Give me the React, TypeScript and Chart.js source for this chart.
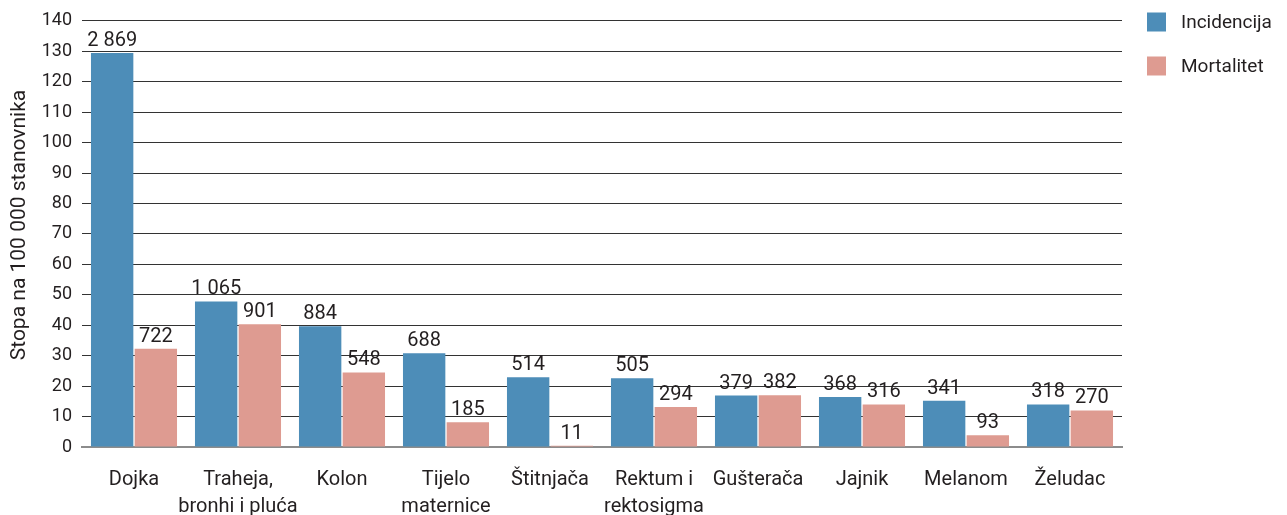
import React, { useEffect, useRef } from "react";
import { Chart, registerables } from "chart.js";

Chart.register(...registerables);

const categories: (string | string[])[] = [
  "Dojka",
  ["Traheja,", "bronhi i pluća"],
  "Kolon",
  ["Tijelo", "maternice"],
  "Štitnjača",
  ["Rektum i", "rektosigma"],
  "Gušterača",
  "Jajnik",
  "Melanom",
  "Želudac",
];

const incidence = [129.4, 47.8, 39.7, 30.8, 22.9, 22.6, 16.9, 16.4, 15.2, 14.0];
const mortality = [32.3, 40.3, 24.5, 8.1, 0.4, 13.1, 17.0, 14.0, 3.9, 12.0];

const incidenceCounts = ["2 869", "1 065", "884", "688", "514", "505", "379", "368", "341", "318"];
const mortalityCounts = ["722", "901", "548", "185", "11", "294", "382", "316", "93", "270"];

const seriesNames = ["Incidencija", "Mortalitet"];
const yTitle = "Stopa na 100 000 stanovnika";

const BLUE = "#4d8db8";
const PINK = "#de9b91";
const TEXT = "#231f20";
const FONT = "Roboto";

const valueLabelPlugin = {
  id: "valueLabels",
  afterDatasetsDraw(chart: any) {
    const ctx = chart.ctx;
    const labelSets = [incidenceCounts, mortalityCounts];
    ctx.save();
    ctx.font = `20px ${FONT}`;
    ctx.fillStyle = TEXT;
    ctx.textAlign = "center";
    ctx.textBaseline = "alphabetic";
    chart.data.datasets.forEach((_: any, di: number) => {
      const meta = chart.getDatasetMeta(di);
      meta.data.forEach((bar: any, i: number) => {
        ctx.fillText(labelSets[di][i], bar.x, bar.y - 7);
      });
    });
    ctx.restore();
  },
};

const legendPlugin = {
  id: "customLegend",
  afterDraw(chart: any) {
    const ctx = chart.ctx;
    ctx.save();
    ctx.font = `19px ${FONT}`;
    ctx.textBaseline = "middle";
    ctx.textAlign = "left";
    chart.data.datasets.forEach((ds: any, i: number) => {
      const cy = 22 + i * 44;
      ctx.fillStyle = ds.backgroundColor;
      ctx.fillRect(1147, cy - 9.5, 19, 19);
      ctx.fillStyle = TEXT;
      ctx.fillText(ds.label, 1181, cy + 1);
    });
    // y-axis title
    ctx.translate(20, 225);
    ctx.rotate(-Math.PI / 2);
    ctx.font = `21px ${FONT}`;
    ctx.textAlign = "center";
    ctx.textBaseline = "middle";
    ctx.fillText(yTitle, 0, 0);
    ctx.restore();
  },
};

export default function App() {
  const ref = useRef<HTMLCanvasElement | null>(null);

  useEffect(() => {
    if (!ref.current) return;
    const chart = new Chart(ref.current, {
      type: "bar",
      data: {
        labels: categories,
        datasets: [
          { label: seriesNames[0], data: incidence, backgroundColor: BLUE, barPercentage: 0.97, categoryPercentage: 0.84 },
          { label: seriesNames[1], data: mortality, backgroundColor: PINK, barPercentage: 0.97, categoryPercentage: 0.84 },
        ],
      },
      options: {
        responsive: false,
        animation: false,
        layout: { padding: { top: 18, right: 165, bottom: 0, left: 0 } },
        plugins: {
          legend: { display: false },
          tooltip: { enabled: false },
        },
        scales: {
          x: {
            grid: { display: false, drawTicks: false },
            border: { display: true, color: "#8c8c8c", width: 2 },
            ticks: {
              color: TEXT,
              font: { family: FONT, size: 20, lineHeight: 1.35 },
              padding: 19,
              maxRotation: 0,
              autoSkip: false,
            },
          },
          y: {
            min: 0,
            max: 140,
            afterFit(scale: any) {
              scale.width = 82;
            },
            border: { display: false },
            grid: { color: "#333333", lineWidth: 1, drawTicks: false },
            ticks: {
              stepSize: 10,
              color: TEXT,
              font: { family: FONT, size: 18 },
              padding: 10,
            },
            title: { display: false },
          },
        },
      },
      plugins: [valueLabelPlugin, legendPlugin],
    });
    return () => chart.destroy();
  }, []);

  return (
    <div style={{ position: "fixed", left: 0, top: 0, width: 1287, height: 539, background: "#fff" }}>
      <canvas ref={ref} width={1287} height={539} />
    </div>
  );
}
